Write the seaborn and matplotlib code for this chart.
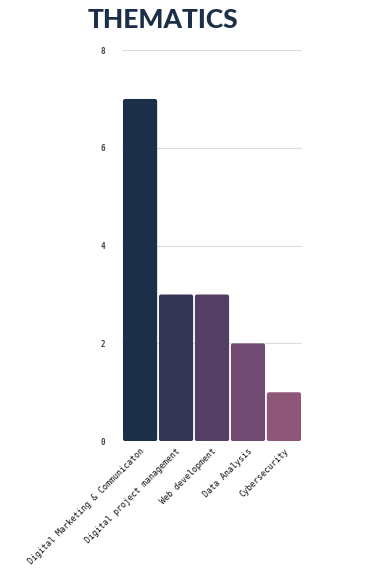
import matplotlib
matplotlib.use("Agg")
import matplotlib.pyplot as plt
from matplotlib.patches import FancyBboxPatch
import seaborn as sns
import pandas as pd

# data
categories = ["Digital Marketing & Communicaton", "Digital project management",
              "Web development", "Data Analysis", "Cybersecurity"]
counts = [7, 3, 3, 2, 1]
colors = ["#1b3048", "#353656", "#533f63", "#714b72", "#8f5777"]
y_ticks = [0, 2, 4, 6, 8]

df = pd.DataFrame({"theme": categories, "count": counts})

sns.set_theme(style="white")
fig = plt.figure(figsize=(3.7, 5.82), dpi=100)
ax = fig.add_axes([0.33, 0.242, 0.486, 0.672])

sns.barplot(data=df, x="theme", y="count", hue="theme", palette=colors,
            saturation=1, legend=False, width=0.95, edgecolor="none", ax=ax,
            zorder=3)

# give the bars slightly rounded corners
for p in list(ax.patches):
    x, y = p.get_x(), p.get_y()
    w, h = p.get_width(), p.get_height()
    rb = FancyBboxPatch((x, y), w, h, boxstyle="round,pad=0,rounding_size=0.06",
                        mutation_aspect=0.73, facecolor=p.get_facecolor(),
                        edgecolor="none", zorder=3)
    p.remove()
    ax.add_patch(rb)

ax.set_ylim(0, 8)
ax.set_xlim(-0.5, len(categories) - 0.5)
ax.set_yticks(y_ticks)
ax.set_yticklabels([str(t) for t in y_ticks], fontsize=5.5, color="#444444",
                   family="DejaVu Sans Mono", fontweight="bold")
ax.yaxis.grid(True, color="#dddddd", linewidth=0.8, zorder=0)
ax.tick_params(axis="y", length=0, pad=12)
ax.tick_params(axis="x", length=0, pad=4)
ax.set_xticks(range(len(categories)))
ax.set_xticklabels(categories, rotation=45, ha="right", rotation_mode="anchor",
                   fontsize=6.0, family="DejaVu Sans Mono", color="#111111")
ax.set_xlabel("")
ax.set_ylabel("")
sns.despine(ax=ax, left=True, bottom=True)

fig.text(0.236, 0.965, "THEMATICS", fontsize=19, fontweight="black",
         family="Lato", color="#1b3048", va="center", ha="left")

fig.savefig("out.png", dpi=100, facecolor="white")
